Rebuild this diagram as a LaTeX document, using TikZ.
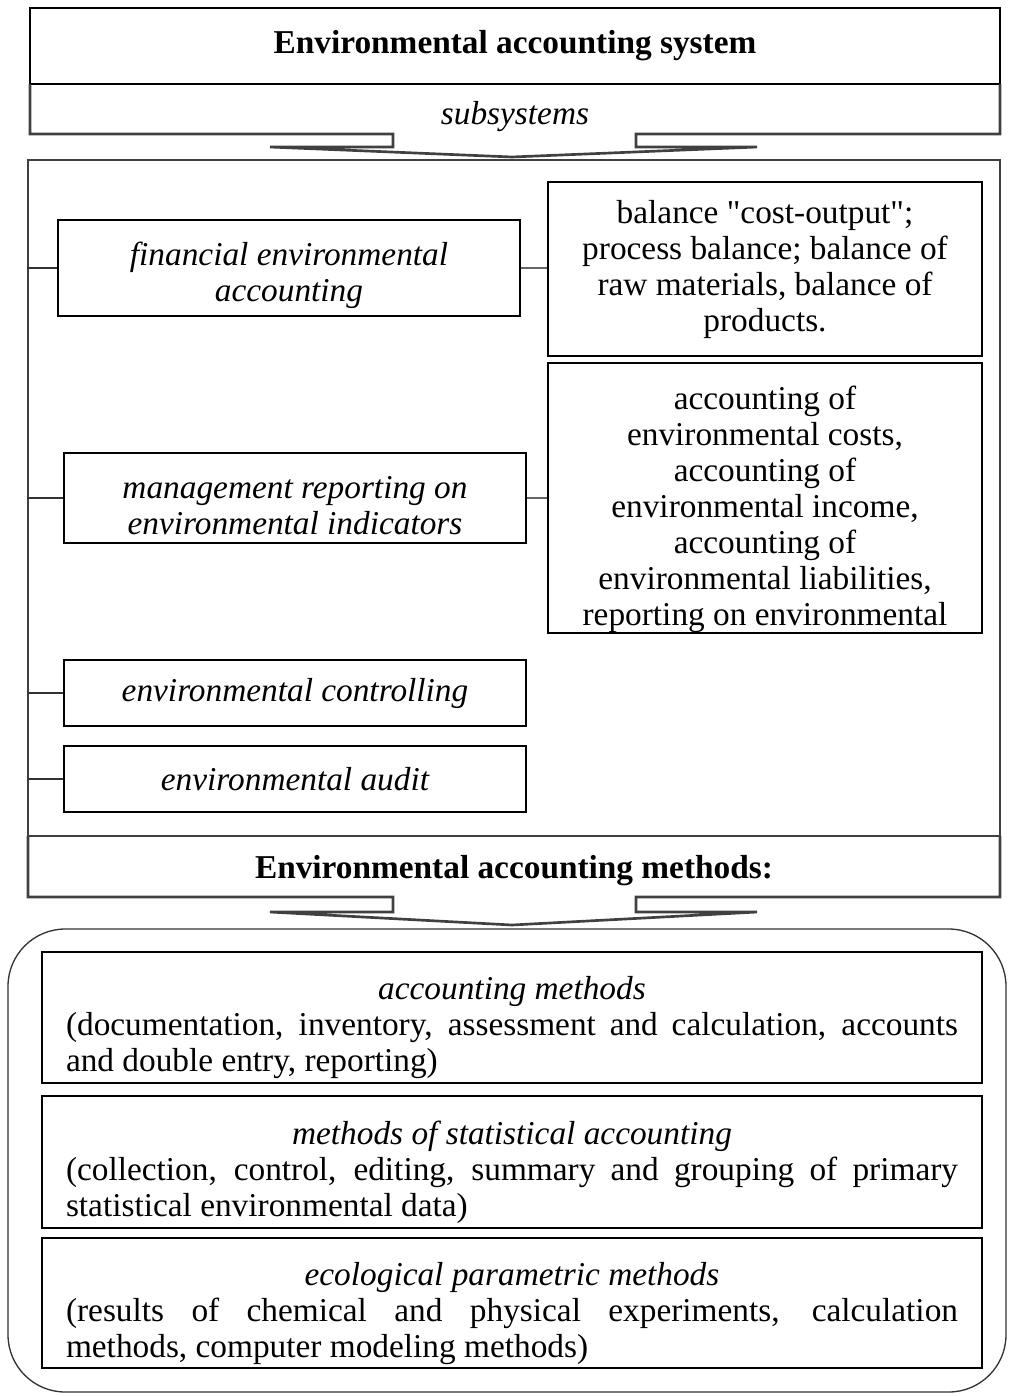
\documentclass[tikz,border=0pt]{standalone}
\usepackage{fontspec}
\setmainfont{Liberation Serif}
\newcommand{\diagfont}{\fontsize{25}{27}\selectfont}
\newcommand{\topstrut}[1]{\rule{0pt}{#1}}
\tikzset{
  box/.style={draw, line width=2pt, inner sep=0pt, align=center, font=\diagfont},
  leftbox/.style={box, minimum width=346.5pt, font=\diagfont\itshape},
  rightbox/.style={box, minimum width=325.5pt},
  methbox/.style={box, minimum width=705pt, text width=669pt, align=justify},
  callout/.style={line width=2pt, black!75},
}
\begin{document}
\begin{tikzpicture}[x=0.75pt,y=0.75pt,yscale=-1,xscale=1]
    \useasboundingbox (0,0) rectangle (1009,1396);
    % Title
    \node[box, minimum width=727.5pt, minimum height=57pt, font=\diagfont\bfseries] (sys) at (515,46) {Environmental accounting system};
    %Shape: subsystems callout
    \draw[callout] (30,84) -- (30,134) -- (393,134) -- (393,147) -- (270,147) -- (512,157) -- (757,147) -- (636,147) -- (636,134) -- (1000,134) -- (1000,84);
    \node[font=\diagfont\itshape] (subs) at (515,117) {subsystems};
    %Shape: frame of the subsystems
    \node[box, draw=black!75, minimum width=729pt, minimum height=507pt] (frame) at (514,498) {};

    % Subsystems
    \node[leftbox, minimum height=72pt] (fin) at (289,268) {\topstrut{29pt}financial environmental\\accounting};
    \node[leftbox, minimum height=67.5pt] (mgmt) at (295,498) {\topstrut{28pt}management reporting on\\environmental indicators};
    \node[leftbox, minimum height=49.5pt] (ctrl) at (295,693) {environmental controlling};
    \node[leftbox, minimum height=49.5pt] (audit) at (295,779) {environmental audit};
    \node[rightbox, minimum height=130.5pt] (bal) at (765,269) {balance \textquotedbl cost-output\textquotedbl;\\process balance; balance of\\raw materials, balance of\\products.};
    \node[rightbox, minimum height=202.5pt] (acct) at (765,498) {\topstrut{34pt}accounting of\\environmental costs,\\accounting of\\environmental income,\\accounting of\\environmental liabilities,\\reporting on environmental};

    %Straight Lines
    \foreach \n in {fin,mgmt,ctrl,audit}
        \draw[line width=2pt, black!80] (\n.west) -- (\n.west -| frame.west);
    \draw[line width=2pt, black!60] (fin.east) -- (fin.east -| bal.west);
    \draw[line width=2pt, black!60] (mgmt.east) -- (mgmt.east -| acct.west);

    %Shape: methods callout
    \draw[callout] (28,836) -- (28,897) -- (393,897) -- (393,912) -- (270,912) -- (512,925) -- (757,912) -- (636,912) -- (636,897) -- (1000,897) -- (1000,836);
    \node[font=\diagfont\bfseries] (mhead) at (514,871) {Environmental accounting methods:};

    %Shape: rounded frame of the methods
    \draw[line width=1pt, black!80, rounded corners=43pt] (8,929) rectangle (1006,1392);

    % Methods
    \node[methbox, minimum height=98.25pt] (accm) at (512,1017.5) {{\centering\topstrut{33pt}\itshape accounting methods\par}(documentation, inventory, assessment and calculation, accounts\linebreak and double entry, reporting)};
    \node[methbox, minimum height=99pt] (statm) at (512,1162) {{\centering\topstrut{33pt}\itshape methods of statistical accounting\par}(collection, control, editing, summary and grouping of primary\linebreak statistical environmental data)};
    \node[methbox, minimum height=97.5pt] (ecom) at (512,1303) {{\centering\topstrut{33pt}\itshape ecological parametric methods\par}(results of chemical and physical experiments, calculation\linebreak methods, computer modeling methods)};
\end{tikzpicture}
\end{document}
